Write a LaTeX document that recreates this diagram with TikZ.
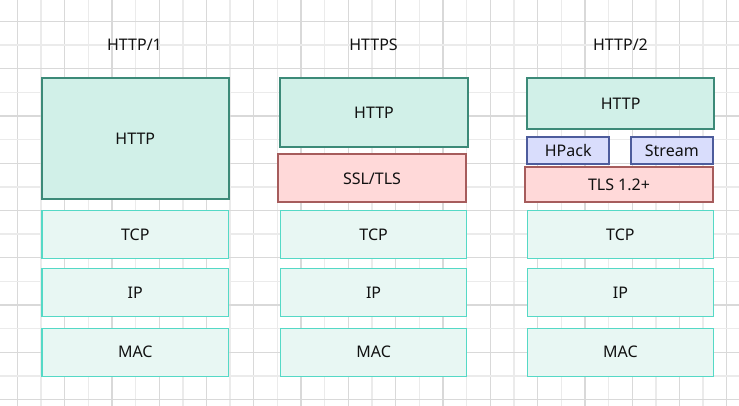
\documentclass[tikz,border=0pt]{standalone}
\usepackage{fontspec}
\setmainfont{Noto Sans}
\definecolor{gridD}{HTML}{D9D9D9}
\definecolor{gridL}{HTML}{EBEBEB}
\definecolor{httpF}{HTML}{D1F0E8}
\definecolor{httpD}{HTML}{3C8A78}
\definecolor{lowF}{HTML}{E8F7F3}
\definecolor{lowD}{HTML}{55D9C6}
\definecolor{tlsF}{HTML}{FFD9D9}
\definecolor{tlsD}{HTML}{A65C5C}
\definecolor{hpF}{HTML}{D9DDFC}
\definecolor{hpD}{HTML}{4D5C9C}
\definecolor{txt}{HTML}{111111}
\tikzset{
  base/.style={rectangle, inner sep=0pt, text=txt, font=\fontsize{12pt}{14pt}\selectfont},
  httpbox/.style={base, fill=httpF, draw=httpD, line width=1.5pt},
  lowbox/.style={base, fill=lowF, draw=lowD, line width=0.8pt, minimum width=140pt, minimum height=36pt},
  tlsbox/.style={base, fill=tlsF, draw=tlsD, line width=1.5pt},
  hpbox/.style={base, fill=hpF, draw=hpD, line width=1.5pt, minimum width=61.3pt, minimum height=19.8pt},
  title/.style={base},
}
\begin{document}
\begin{tikzpicture}[x=0.75pt,y=-0.75pt]
\fill[white] (0,0) rectangle (739,406);
\useasboundingbox (0,0) rectangle (739,406);
% grid
\foreach \i in {0,...,31} {
  \pgfmathsetmacro{\xx}{17.3+23.65*\i}
  \ifodd\i \def\gc{gridL}\else\def\gc{gridD}\fi
  \draw[line width=1pt, color=\gc] (\xx,0) -- (\xx,406);
}
\foreach \i in {0,...,16} {
  \pgfmathsetmacro{\yy}{21.3+23.65*\i}
  \ifodd\i \def\gc{gridL}\else\def\gc{gridD}\fi
  \draw[line width=1pt, color=\gc] (0,\yy) -- (739,\yy);
}
% titles
\node[title] (t1) at (134.5,44.5) {HTTP/1};
\node[title] (t2) at (373.5,44.5) {HTTPS};
\node[title] (t3) at (620.5,44.5) {HTTP/2};
% column 1
\node[httpbox, minimum width=140pt, minimum height=90.75pt] (h1) at (135.3,138.5) {HTTP};
\node[lowbox] (tcp1) at (135.3,234.3) {TCP};
\node[lowbox] (ip1) at (135.3,292.3) {IP};
\node[lowbox] (mac1) at (135.3,352.2) {MAC};
% column 2
\node[httpbox, minimum width=141pt, minimum height=51.5pt] (h2) at (374,112.3) {HTTP};
\node[tlsbox, minimum width=141pt, minimum height=36pt] (ssl) at (372,178.3) {SSL/TLS};
\node[lowbox] (tcp2) at (373.6,234.3) {TCP};
\node[lowbox] (ip2) at (373.6,292.3) {IP};
\node[lowbox] (mac2) at (373.6,352.2) {MAC};
% column 3
\node[httpbox, minimum width=140pt, minimum height=37.8pt] (h3) at (620.7,103.5) {HTTP};
\node[hpbox] (hp) at (568.2,150.5) {HPack};
\node[hpbox] (st) at (671.8,150.5) {Stream};
\node[tlsbox, minimum width=141pt, minimum height=26pt] (tls) at (619,184.7) {TLS 1.2+};
\node[lowbox] (tcp3) at (620.4,234.3) {TCP};
\node[lowbox] (ip3) at (620.4,292.3) {IP};
\node[lowbox] (mac3) at (620.4,352.2) {MAC};
\end{tikzpicture}
\end{document}
